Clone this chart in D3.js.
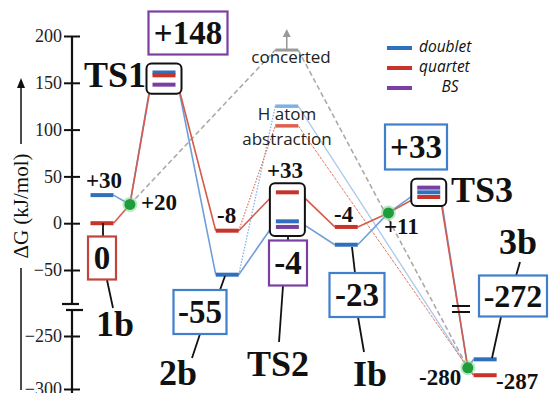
<!DOCTYPE html>
<html><head><meta charset="utf-8">
<script src="https://cdn.jsdelivr.net/npm/d3@7"></script>
<style>
body{margin:0;background:#fff}
svg{display:block}
</style>
</head><body>
<svg id="chart" width="549" height="393"></svg>
<script>
// Free-energy profile (kJ/mol) along the reaction coordinate
const stateNames    = ["1b", "TS1", "2b", "TS2", "Ib", "TS3", "3b"];
const reactionCoord = [0, 1, 2.02, 2.99, 3.94, 5.27, 6.18];
const doubletG      = [30, 161, -55, 2, -23, 33, -272];
const quartetG      = [0, 158, -8, 33, -4, 28, -287];
const bsG           = [null, 148, null, -4, null, 38, null];
// spin-crossing points between the surfaces
const crossingCoord = [0.45, 4.62, 5.9];
const crossingG     = [20, 11, -280];
// alternative routes from 2b
const hAbsCoord = 2.98, hAbsDoublet = 125, hAbsQuartet = 104;
const concertedCoord = 2.98, concertedG = 185;
// axis ticks (broken axis)
const upperTicks = [200, 150, 100, 50, 0, -50];
const lowerTicks = [-250, -300];

const svg = d3.select("#chart");
const BLUE = "#2f6fbe", RED = "#c8342a", PURPLE = "#7b3fa3";
const BLUE_L = "#6f9fd8", RED_L = "#d65a4c";
const SERIF = '"Liberation Serif", "Times New Roman", serif';
const SANS = '"Open Sans", "Noto Sans", sans-serif';

const x = d3.scaleLinear().domain([0, 6]).range([102, 474]);
const yU = d3.scaleLinear().domain([-50, 200]).range([270, 36]);
const yL = d3.scaleLinear().domain([-300, -250]).range([389, 336]);
const y = v => v > -150 ? yU(v) : yL(v);
const HW = 11.5;

// ---- y axis ----
const ax = 72;
const axisG = svg.append("g").attr("stroke", "#111").attr("stroke-width", 2.2);
axisG.append("line").attr("x1", ax).attr("x2", ax).attr("y1", yU(200)).attr("y2", 304);
axisG.append("line").attr("x1", ax).attr("x2", ax).attr("y1", 310).attr("y2", 393);
axisG.append("line").attr("x1", 62).attr("x2", 79).attr("y1", 304).attr("y2", 304);
axisG.append("line").attr("x1", 66).attr("x2", 83).attr("y1", 310).attr("y2", 310);

const upAxis = d3.axisLeft(yU).tickValues(upperTicks).tickSize(0).tickPadding(10);
const loAxis = d3.axisLeft(yL).tickValues(lowerTicks).tickSize(0).tickPadding(10);
[upAxis, loAxis].forEach(a => {
  const g = svg.append("g").attr("transform", `translate(${ax},0)`).call(a);
  g.select(".domain").remove();
  g.selectAll(".tick text").style("font-family", SERIF).attr("font-size", 18).attr("fill", "#222");
  g.selectAll(".tick").append("line").attr("x1", -8).attr("x2", 8)
    .attr("stroke", "#111").attr("stroke-width", 2);
});

// axis title with arrow
const tG = svg.append("g").attr("transform", "translate(21,206) rotate(-90)");
tG.append("text").style("font-family", SERIF).attr("text-anchor", "middle").attr("dy", "0.33em")
  .attr("font-size", 21).attr("fill", "#111").text("ΔG (kJ/mol)");
tG.append("line").attr("x1", -184).attr("x2", -62).attr("stroke", "#111").attr("stroke-width", 1.5);
tG.append("line").attr("x1", 62).attr("x2", 120).attr("stroke", "#111").attr("stroke-width", 1.5);
tG.append("path").attr("d", "M128,0 L118,-4 L118,4 Z").attr("fill", "#111");

// ---- helper geometry ----
const states = stateNames.map((n, i) => ({
  name: n, cx: x(reactionCoord[i]),
  d: doubletG[i], q: quartetG[i], bs: bsG[i], ts: n.startsWith("TS")
}));
const crosses = crossingCoord.map((c, i) => ({ cx: x(c), g: crossingG[i] }));

function route(key) {
  const seq = [
    { s: states[0] }, { c: crosses[0] }, { s: states[1] }, { s: states[2] },
    { s: states[3] }, { s: states[4] }, { c: crosses[1] }, { s: states[5] },
    { c: crosses[2] }, { s: states[6] }
  ];
  const segs = [];
  for (let i = 0; i < seq.length - 1; i++) {
    const a = seq[i], b = seq[i + 1];
    const ax1 = a.s ? a.s.cx + HW : a.c.cx, ay1 = y(a.s ? a.s[key] : a.c.g);
    const bx1 = b.s ? b.s.cx - HW : b.c.cx, by1 = y(b.s ? b.s[key] : b.c.g);
    segs.push([ax1, ay1, bx1, by1]);
  }
  return segs;
}

// ---- alternative pathways (thin) ----
const hx0 = x(hAbsCoord) - HW, hx1 = x(hAbsCoord) + HW;
const c3 = crosses[2];
const thin = svg.append("g").attr("fill", "none");
thin.append("line").attr("x1", states[2].cx + HW).attr("y1", y(doubletG[2]))
  .attr("x2", hx0).attr("y2", y(hAbsDoublet)).attr("stroke", "#86b2e4").attr("stroke-width", 1.3).attr("stroke-dasharray", "1.5,1.5");
thin.append("line").attr("x1", states[2].cx + HW).attr("y1", y(quartetG[2]))
  .attr("x2", hx0).attr("y2", y(hAbsQuartet)).attr("stroke", "#e0705f").attr("stroke-width", 1.2).attr("stroke-dasharray", "1.5,1.5");
thin.append("line").attr("x1", hx1).attr("y1", y(hAbsDoublet)).attr("x2", c3.cx).attr("y2", y(c3.g))
  .attr("stroke", "#a9c9ec").attr("stroke-width", 1.3);
thin.append("line").attr("x1", hx1).attr("y1", y(hAbsQuartet)).attr("x2", c3.cx).attr("y2", y(c3.g))
  .attr("stroke", "#e07a6a").attr("stroke-width", 1).attr("stroke-dasharray", "3,1.2");
thin.append("line").attr("x1", hx0).attr("x2", hx1).attr("y1", y(hAbsDoublet)).attr("y2", y(hAbsDoublet))
  .attr("stroke", "#7eb0e2").attr("stroke-width", 3.5);
thin.append("line").attr("x1", hx0).attr("x2", hx1).attr("y1", y(hAbsQuartet)).attr("y2", y(hAbsQuartet))
  .attr("stroke", "#e0604f").attr("stroke-width", 3.5);

// concerted route (grey dashed)
const kx0 = x(concertedCoord) - HW, kx1 = x(concertedCoord) + HW, ky = y(concertedG);
const c1 = crosses[0];
thin.append("line").attr("x1", c1.cx).attr("y1", y(c1.g)).attr("x2", kx0).attr("y2", ky)
  .attr("stroke", "#b0a8a6").attr("stroke-width", 1.6).attr("stroke-dasharray", "5,3");
thin.append("line").attr("x1", kx1).attr("y1", ky).attr("x2", c3.cx).attr("y2", y(c3.g))
  .attr("stroke", "#b0a8a6").attr("stroke-width", 1.6).attr("stroke-dasharray", "5,3");
thin.append("line").attr("x1", kx0).attr("x2", kx1).attr("y1", ky).attr("y2", ky)
  .attr("stroke", "#9a9a9a").attr("stroke-width", 3);
thin.append("line").attr("x1", x(concertedCoord)).attr("x2", x(concertedCoord)).attr("y1", ky).attr("y2", ky - 14)
  .attr("stroke", "#9a9a9a").attr("stroke-width", 1.6);
thin.append("path").attr("d", `M${x(concertedCoord)},${ky - 21} l-4,8 l8,0 Z`).attr("fill", "#9a9a9a");

// ---- main route connectors ----
const conn = svg.append("g");
[["d", BLUE_L, 1.6], ["q", RED_L, 1.6]].forEach(([k, col, w]) => {
  conn.selectAll(null).data(route(k)).join("line")
    .attr("x1", s => s[0]).attr("y1", s => s[1]).attr("x2", s => s[2]).attr("y2", s => s[3])
    .attr("stroke", col).attr("stroke-width", w);
});

// break marks on the drop to 3b
svg.append("line").attr("x1", 452).attr("x2", 470).attr("y1", 306).attr("y2", 306).attr("stroke", "#111").attr("stroke-width", 2);
svg.append("line").attr("x1", 452).attr("x2", 470).attr("y1", 312).attr("y2", 312).attr("stroke", "#111").attr("stroke-width", 2);

// TS frames
states.filter(s => s.ts).forEach(s => {
  const vals = [s.d, s.q, s.bs].map(y);
  const top = d3.min(vals) - 9, bot = d3.max(vals) + 9;
  svg.append("rect").attr("x", s.cx - 17.5).attr("y", top).attr("width", 35).attr("height", bot - top)
    .attr("rx", 5).attr("fill", "#fff").attr("stroke", "#111").attr("stroke-width", 2);
});

// energy levels
const bars = svg.append("g");
states.forEach(s => {
  [["d", BLUE], ["q", RED], ["bs", PURPLE]].forEach(([k, col]) => {
    if (s[k] == null) return;
    bars.append("line").attr("x1", s.cx - HW).attr("x2", s.cx + HW).attr("y1", y(s[k])).attr("y2", y(s[k]))
      .attr("stroke", col).attr("stroke-width", 4);
  });
});

// crossing points
crosses.forEach(c => {
  svg.append("circle").attr("cx", c.cx).attr("cy", y(c.g)).attr("r", 7.5).attr("fill", "#7fd88a").attr("opacity", 0.55);
  svg.append("circle").attr("cx", c.cx).attr("cy", y(c.g)).attr("r", 5.5).attr("fill", "#1f9c3c");
});

// ---- leader lines ----
const leaders = [
  [103, 223, 103, 237], [107, 280, 113, 308],
  [225, 276, 220, 290], [200, 334, 192, 358],
  [288, 235, 288, 241], [283, 286, 279, 342],
  [352, 247, 355, 273], [358, 317, 364, 352],
  [492, 358, 501, 317], [516, 276, 520, 262]
];
svg.append("g").selectAll("line").data(leaders).join("line")
  .attr("x1", d => d[0]).attr("y1", d => d[1]).attr("x2", d => d[2]).attr("y2", d => d[3])
  .attr("stroke", "#111").attr("stroke-width", 1.8);

// ---- boxed values ----
function boxed(txt, cx, cy, w, h, col, fs) {
  svg.append("rect").attr("x", cx - w / 2).attr("y", cy - h / 2).attr("width", w).attr("height", h)
    .attr("fill", "#fff").attr("stroke", col).attr("stroke-width", 2.2);
  svg.append("text").style("font-family", SERIF).attr("x", cx).attr("y", cy + fs * 0.33).attr("text-anchor", "middle")
    .attr("font-weight", "bold").attr("font-size", fs).attr("fill", "#111").text(txt);
}
const fmt = v => (v > 0 ? "+" : v < 0 ? "-" : "") + Math.abs(v);
boxed(fmt(quartetG[0]), 102, 258, 28, 43, "#c0453a", 33);
boxed(fmt(bsG[1]), 188, 33, 79, 43, PURPLE, 33);
boxed(fmt(doubletG[2]), 200, 312, 53, 44, "#3f7fcc", 33);
boxed(fmt(bsG[3]), 288, 263, 38, 45, PURPLE, 33);
boxed(fmt(doubletG[4]), 357, 295, 55, 44, "#3f7fcc", 33);
boxed(fmt(doubletG[5]), 416, 147, 62, 45, "#3f7fcc", 33);
boxed(fmt(doubletG[6]), 513, 296, 68, 41, "#3f7fcc", 32);

// ---- plain labels ----
function label(txt, lx, ly, fs, anchor) {
  svg.append("text").style("font-family", SERIF).attr("x", lx).attr("y", ly).attr("text-anchor", anchor || "start")
    .attr("font-weight", "bold").attr("font-size", fs).attr("fill", "#111").text(txt);
}
label(fmt(doubletG[0]), 86, 188, 23);
label(fmt(crossingG[0]), 141, 210, 23);
label(fmt(quartetG[2]), 217, 223, 23);
label(fmt(quartetG[3]), 267, 178, 23);
label(fmt(quartetG[4]), 334, 222, 23);
label(fmt(crossingG[1]), 384, 234, 23);
label(fmt(crossingG[2]), 419, 385, 23);
label(fmt(quartetG[6]), 496, 389, 23);

label(stateNames[0], 115, 336, 36, "middle");
label(stateNames[1], 115, 87, 36, "middle");
label(stateNames[2], 178, 385, 36, "middle");
label(stateNames[3], 278, 376, 36, "middle");
label(stateNames[4], 370, 386, 36, "middle");
label(stateNames[5], 451, 202, 36);
label(stateNames[6], 518, 254, 36, "middle");

// pathway captions
function caption(txt, cx, by) {
  svg.append("text").style("font-family", SANS).attr("x", cx).attr("y", by).attr("text-anchor", "middle")
    .attr("font-size", 17).attr("fill", "#222").text(txt);
}
caption("concerted", 291, 63);
caption("H atom", 287, 120);
caption("abstraction", 287, 145);

// ---- legend ----
const legendItems = ["doublet", "quartet", "BS"];
const legendColors = [BLUE, RED, PURPLE];
const lg = svg.append("g");
legendItems.forEach((t, i) => {
  const ly = 48 + i * 20;
  lg.append("line").attr("x1", 387).attr("x2", 412).attr("y1", ly).attr("y2", ly)
    .attr("stroke", legendColors[i]).attr("stroke-width", 4);
  lg.append("text").style("font-family", SANS).attr("x", t === "BS" ? 450 : 419).attr("y", ly + 4)
    .attr("text-anchor", t === "BS" ? "middle" : "start")
    .attr("font-style", "italic").attr("font-size", 15.5).attr("fill", "#111").text(t);
});
</script>
</body></html>
